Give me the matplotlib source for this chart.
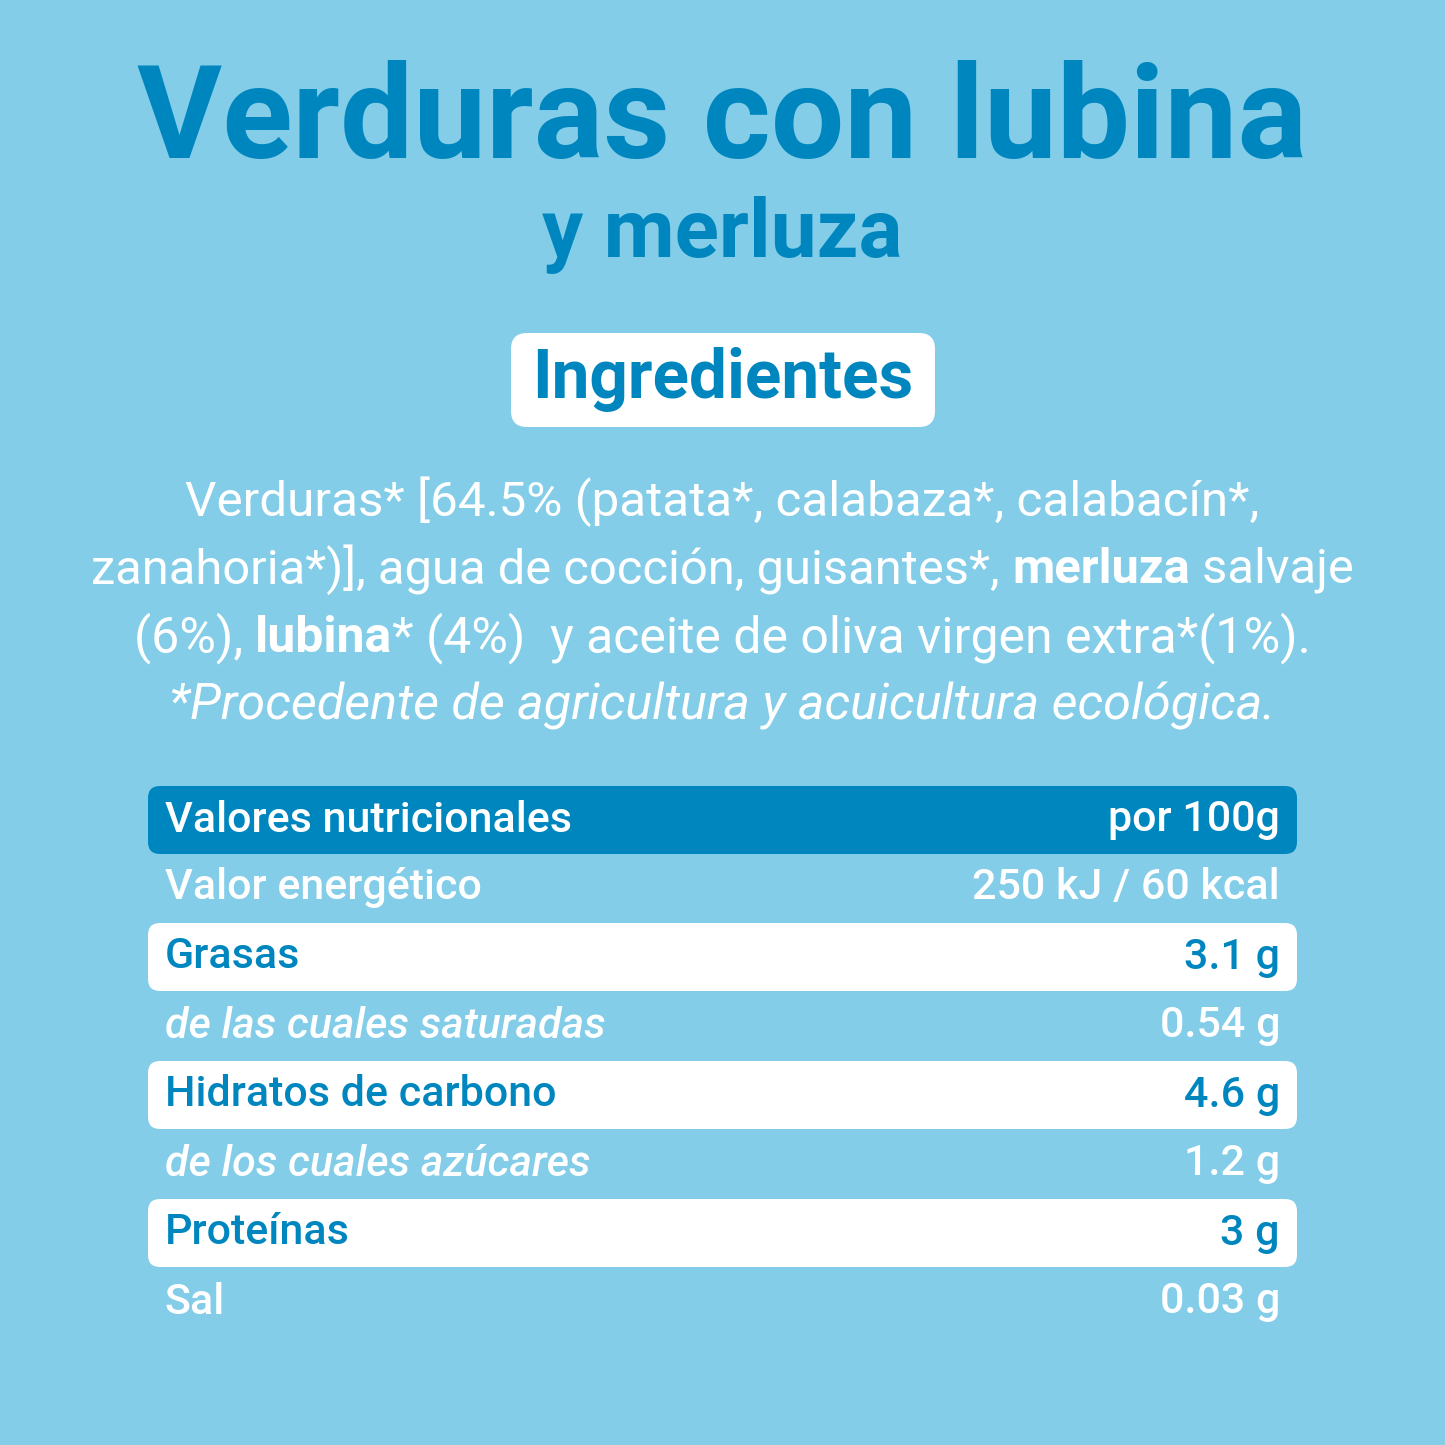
import matplotlib
matplotlib.use("Agg")
import matplotlib.pyplot as plt
from matplotlib.patches import FancyBboxPatch

BG = "#83CDE9"; DARK = "#0086BE"; WHITE = "#FFFFFF"
FONT = "Roboto"

title_lines = ["Verduras con lubina", "y merluza"]
section = "Ingredientes"
ingredient_lines = [
    [("Verduras* [64.5% (patata*, calabaza*, calabacín*,", "normal", "normal")],
    [("zanahoria*)], agua de cocción, guisantes*, ", "normal", "normal"), ("merluza", "bold", "normal"), (" salvaje", "normal", "normal")],
    [("(6%), ", "normal", "normal"), ("lubina", "bold", "normal"), ("* (4%)  y aceite de oliva virgen extra*(1%).", "normal", "normal")],
    [("*Procedente de agricultura y acuicultura ecológica.", "normal", "italic")],
]
header = ("Valores nutricionales", "por 100g")
nutrients = ["Valor energético", "Grasas", "de las cuales saturadas", "Hidratos de carbono",
             "de los cuales azúcares", "Proteínas", "Sal"]
values = ["250 kJ / 60 kcal", "3.1 g", "0.54 g", "4.6 g", "1.2 g", "3 g", "0.03 g"]
highlight = [False, True, False, True, False, True, False]
italic_rows = [False, False, True, False, True, False, False]

fig = plt.figure(figsize=(14.45, 14.45), dpi=100, facecolor=BG)
ax = fig.add_axes([0, 0, 1, 1]); ax.set_xlim(0, 1445); ax.set_ylim(1445, 0); ax.axis("off")
fig.canvas.draw()
r = fig.canvas.get_renderer()

def width(t):
    bb = t.get_window_extent(renderer=r)
    return bb.width

def fit_line(segs, y, target_w, color, size0=30):
    # draw temp to measure
    ts = [ax.text(0, y, s, fontsize=size0, fontweight=w, fontstyle=st, family=FONT, color=color, va="center") for s, w, st in segs]
    tot = sum(width(t) for t in ts)
    scale = target_w / tot
    size = size0 * scale
    for t in ts:
        t.set_fontsize(size)
    ws = [width(t) for t in ts]
    x = 722.5 - sum(ws) / 2
    for t, w in zip(ts, ws):
        t.set_x(x); x += w
    return ts

fit_line([(title_lines[0], "bold", "normal")], 122, 1170, DARK, 100)
fit_line([(title_lines[1], "bold", "normal")], 235, 360, DARK, 100)

ax.add_patch(FancyBboxPatch((511, 333), 424, 94, boxstyle="round,pad=0,rounding_size=16", fc=WHITE, ec="none"))
fit_line([(section, "bold", "normal")], 380, 382, DARK, 45)

for segs, y, w in zip(ingredient_lines, [502, 570, 638, 706], [1075, 1265, 1178, 1108]):
    fit_line(segs, y, w, WHITE, 32)

X0, X1 = 148, 1297; H = 68
def box(yc, color):
    ax.add_patch(FancyBboxPatch((X0, yc - H/2), X1 - X0, H, boxstyle="round,pad=0,rounding_size=12", fc=color, ec="none"))

FS = 31
box(820, DARK)
ax.text(165, 820, header[0], fontsize=FS, fontweight="medium", family=FONT, color=WHITE, va="center")
ax.text(1280, 820, header[1], fontsize=FS, fontweight="medium", family=FONT, color=WHITE, va="center", ha="right")
for i, (n, v) in enumerate(zip(nutrients, values)):
    yc = 888 + i * 69
    c = WHITE
    if highlight[i]:
        box(yc, WHITE); c = DARK
    st = "italic" if italic_rows[i] else "normal"
    ax.text(165, yc, n, fontsize=FS, fontweight="medium", fontstyle=st, family=FONT, color=c, va="center")
    ax.text(1280, yc, v, fontsize=FS, fontweight="medium", family=FONT, color=c, va="center", ha="right")

fig.savefig("out.png", dpi=100, facecolor=BG)
